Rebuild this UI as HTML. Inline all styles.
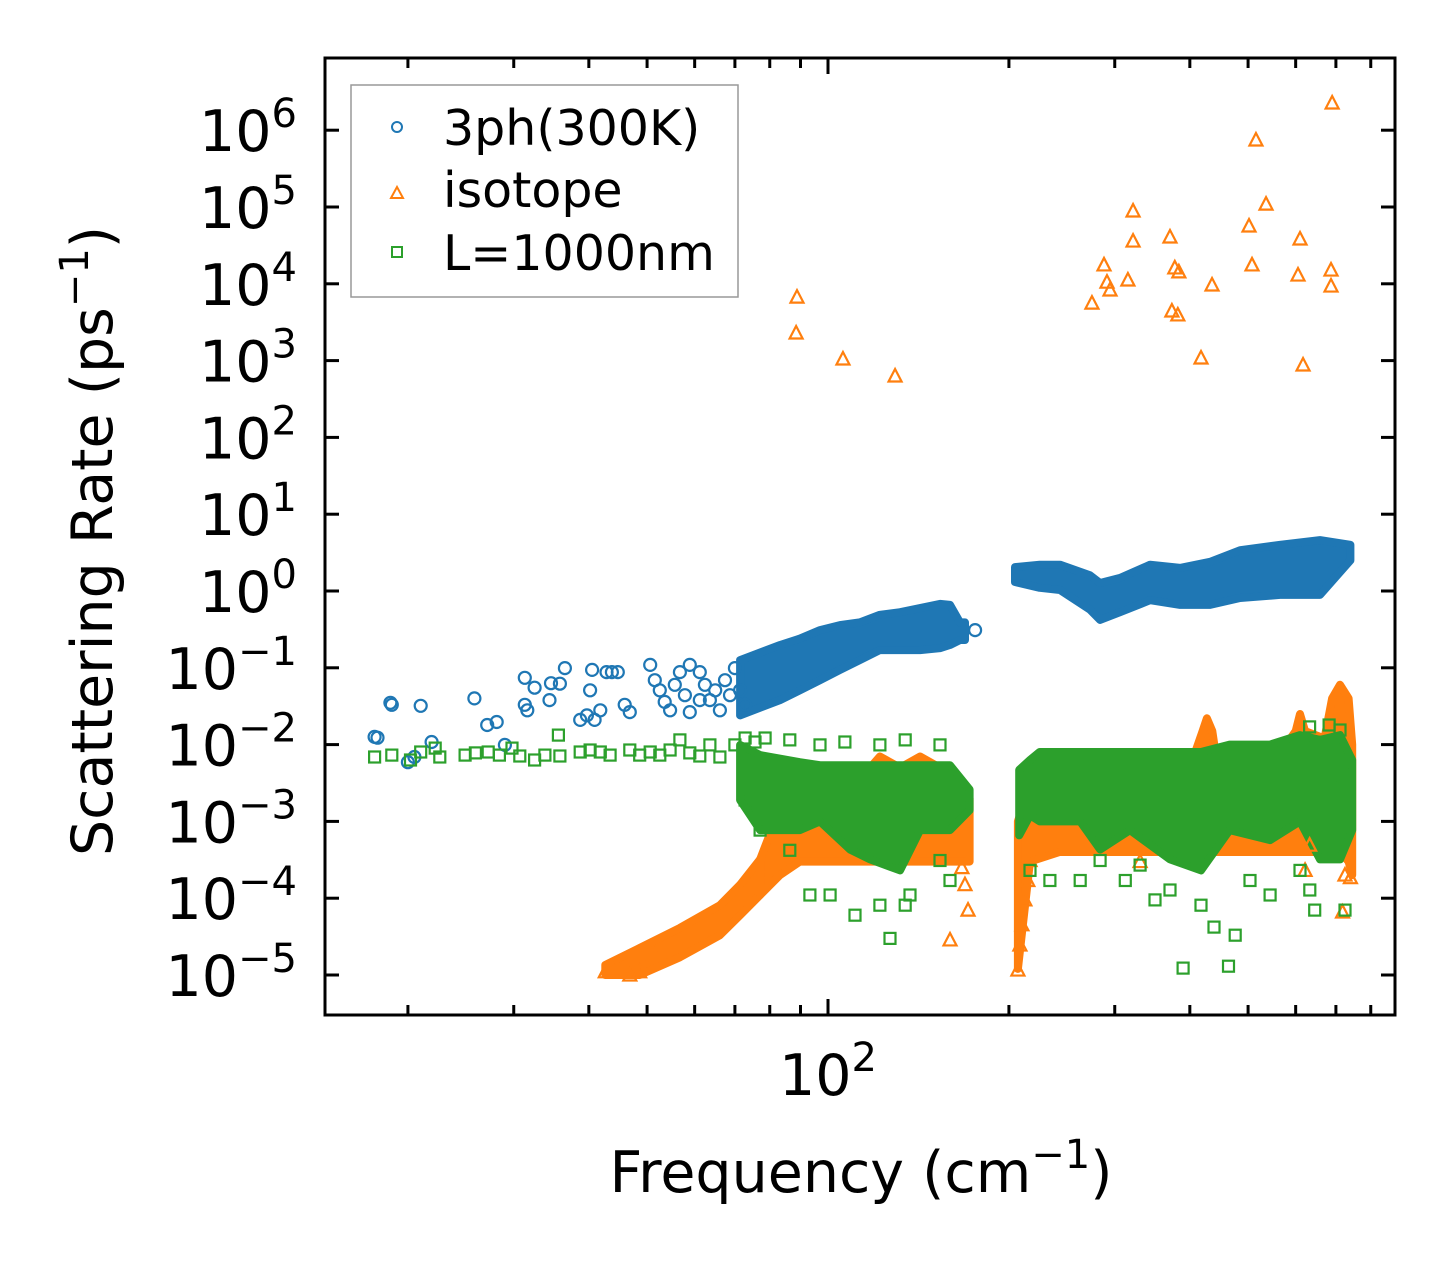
<!DOCTYPE html>
<html><head><meta charset="utf-8">
<style>
html,body{margin:0;padding:0;background:#fff;}
svg{display:block;font-family:"DejaVu Sans","Liberation Sans",sans-serif;}
</style></head>
<body>
<svg id="chart" width="1455" height="1265" viewBox="0 0 1455 1265" xmlns="http://www.w3.org/2000/svg">
<rect width="1455" height="1265" fill="#fff"/>
<g id="bands"></g>
<g id="marks"></g>
<rect x="325" y="58" width="1070" height="957" fill="none" stroke="#000" stroke-width="3"/>
<g id="ticks"></g>
<text x="861" y="1192" font-size="57" text-anchor="middle">Frequency (cm<tspan font-size="40" dy="-24">−1</tspan><tspan dy="24">)</tspan></text>
<text transform="translate(112,541) rotate(-90)" font-size="57" text-anchor="middle">Scattering Rate (ps<tspan font-size="40" dy="-24">−1</tspan><tspan dy="24">)</tspan></text>
<g>
<rect x="351" y="85" width="387" height="212" fill="#fff" fill-opacity="0.8" stroke="#999" stroke-width="1.5"/>
<circle cx="397" cy="127" r="5" fill="none" stroke="#1f77b4" stroke-width="2"/>
<text x="443" y="145" font-size="49">3ph(300K)</text>
<path d="M391,198 L403,198 L397,187 Z" fill="none" stroke="#ff7f0e" stroke-width="2"/>
<text x="443" y="207" font-size="49">isotope</text>
<rect x="392" y="247" width="10" height="10" fill="none" stroke="#2ca02c" stroke-width="2"/>
<text x="443" y="270" font-size="49">L=1000nm</text>
</g>
</svg>
<script>
// ---- data ----
const yTickExps = [6,5,4,3,2,1,0,-1,-2,-3,-4,-5];
const xMajorTicks = [100];
const xMinorTicks = [20,30,40,50,60,70,80,90,200,300,400,500,600,700,800];

const blueBand1F = [71.4,83.2,89.8,97,104.7,113,122,131.8,142.3,153.6,159.6,165.8,169];
const blueBand1Lo = [0.024,0.038,0.051,0.069,0.094,0.126,0.17,0.17,0.17,0.18,0.198,0.23,0.23];
const blueBand1Hi = [0.126,0.198,0.24,0.31,0.36,0.39,0.49,0.53,0.6,0.68,0.66,0.39,0.39];
const blueBand2F = [204.7,225,243.2,272.9,283.6,306.2,343.5,385.3,432.3,485,565.1,658.6,740];
const blueBand2Lo = [1.31,1.1,1.03,0.57,0.42,0.53,0.76,0.66,0.66,0.81,0.89,0.89,2.5];
const blueBand2Hi = [2.05,2.2,2.2,1.6,1.27,1.48,2.2,2.0,2.4,3.4,4.0,4.6,4.0];

const orangeBand1F = [42.6,48.6,56.7,66.1,71.4,77.1];
const orangeBand1Lo = [1e-5,1e-5,1.7e-5,3.3e-5,6e-5,1.1e-4];
const orangeBand1Hi = [1.35e-5,2.25e-5,4.1e-5,8.1e-5,1.5e-4,3.2e-4];
const orangeBand2F = [77.1,83.2,89.8,117.5,122,131.8,142.3,153.6,165.8,172];
const orangeBand2Lo = [1.1e-4,2e-4,3e-4,3e-4,3e-4,3e-4,3e-4,3e-4,3e-4,3e-4];
const orangeBand2Hi = [3.2e-4,1.5e-3,4e-3,5e-3,7e-3,5e-3,7e-3,5e-3,3e-3,2e-3];
const orangeBand3F = [207,216.8,243,400,420,427,436,445,560,600,610,622,670,690,711,735,745];
const orangeBand3Lo = [1.2e-5,3e-4,4e-4,4e-4,4e-4,4e-4,4e-4,4e-4,4e-4,4e-4,4e-4,4e-4,4e-4,4e-4,4e-4,3e-4,2e-4];
const orangeBand3Hi = [1e-3,3e-3,5e-3,5e-3,1.5e-2,2.2e-2,1.5e-2,5e-3,7e-3,1.5e-2,2.5e-2,1.5e-2,1.2e-2,4e-2,6e-2,4e-2,1e-2];

const greenBand1F = [71.4,77.1,89.8,97,108.8,117.5,131.8,142.3,159.6,172];
const greenBand1Lo = [1.9e-3,7.7e-4,7.7e-4,1.0e-3,4.3e-4,3.2e-4,2.3e-4,7.7e-4,7.7e-4,1.4e-3];
const greenBand1Hi = [9.9e-3,7.3e-3,5.9e-3,5.4e-3,5.4e-3,5.4e-3,5.4e-3,5.4e-3,5.4e-3,2.6e-3];
const greenBand2F = [208,216.8,225,262.8,283.6,318,370.7,417.5,466,544,610.1,658.6,711,745];
const greenBand2Lo = [6.6e-4,1.2e-3,1e-3,1e-3,4.3e-4,7.7e-4,3.2e-4,2.3e-4,7.7e-4,5.7e-4,1e-3,3.2e-4,3.2e-4,7.7e-4];
const greenBand2Hi = [4.7e-3,6.3e-3,8e-3,8e-3,8e-3,8e-3,8e-3,8e-3,1e-2,1e-2,1.33e-2,1.15e-2,1.33e-2,6.3e-3];

const blueF = [17.6,17.8,18.7,18.8,20.0,20.5,21.0,21.9,25.8,27.1,28.1,29.0,31.3,31.3,31.6,32.5,34.4,34.6,35.8,36.5,38.7,39.7,40.2,40.5,40.9,41.8,42.8,43.7,44.7,45.9,46.8,50.6,51.5,52.5,53.5,54.6,55.6,56.7,57.8,58.9,61.2,62.4,63.6,64.9,66.1,67.4,68.7,70.0,71.4,72.8,61.2,58.9,175.7];
const blueR = [1.26e-2,1.23e-2,3.5e-2,3.3e-2,5.9e-3,6.9e-3,3.2e-2,1.08e-2,4.0e-2,1.8e-2,1.97e-2,9.9e-3,7.4e-2,3.3e-2,2.8e-2,5.5e-2,3.8e-2,6.3e-2,6.2e-2,9.9e-2,2.1e-2,2.4e-2,5.1e-2,9.4e-2,2.1e-2,2.8e-2,8.8e-2,8.8e-2,8.8e-2,3.3e-2,2.65e-2,0.109,6.9e-2,5.1e-2,3.6e-2,2.8e-2,6.0e-2,8.8e-2,4.4e-2,2.65e-2,8.8e-2,6.0e-2,3.8e-2,5.1e-2,2.8e-2,6.9e-2,4.4e-2,9.9e-2,5.1e-2,3.3e-2,3.8e-2,0.109,0.31];

const orangeF = [88.8,88.5,105.9,129.3,274.9,287.9,291.2,294.6,315.5,321.8,321.8,370.7,377.6,383.5,373.4,382,435.5,417.5,501.8,507.6,515.3,535.6,610.1,605.4,617.2,687,687,690,
 42.6,43.7,45.4,46.8,48.6,50.2,51.5,53.5,159.6,169,167,171,207,208.6,210.2,212.6,215,216.8,718,724.7,740,622,330.6,633];
const orangeR = [6700,2290,1050,630,5600,17600,10500,8300,11200,88700,36000,40700,16100,14300,4420,3930,9650,1080,56600,17600,745000,109000,38300,13000,877,15100,9350,2.26e6,
 1.1e-5,1.23e-5,1.48e-5,1.0e-5,1.1e-5,1.35e-5,1.82e-5,2.25e-5,2.86e-5,1.5e-4,2.5e-4,7.0e-5,1.16e-5,2.46e-5,4.5e-5,9.5e-5,1.7e-4,3.1e-4,6.6e-5,2.0e-4,1.85e-4,2.3e-4,3.0e-4,4.9e-4];

const greenF = [17.6,18.8,20.2,21.0,22.2,22.6,24.9,25.9,27.2,28.4,29.8,30.7,32.5,33.8,35.6,35.8,38.7,40.2,41.8,43.4,46.8,48.6,50.6,52.5,54.6,56.7,58.9,61.2,63.6,66.1,70.0,72.8,75.6,78.6,86.4,97.0,106.7,122,134.4,153.6,
 72.8,77.1,86.4,93.3,100.8,110.9,122,126.8,134.4,136.9,153.6,159.6,169.0,216.8,234,262.8,283.6,312.4,330.6,350,370.7,389.8,417.5,438.8,463.8,476,503.6,544,610.1,633.4,645.4,724.7,719,682,711,633];
const greenR = [6.9e-3,7.3e-3,6.3e-3,8.0e-3,9.0e-3,6.9e-3,7.3e-3,7.8e-3,8.0e-3,7.3e-3,9.0e-3,7.1e-3,6.3e-3,7.3e-3,1.33e-2,7.1e-3,8.0e-3,8.5e-3,8.0e-3,7.3e-3,8.5e-3,7.3e-3,8.0e-3,7.3e-3,8.5e-3,1.15e-2,7.8e-3,7.1e-3,9.9e-3,6.9e-3,9.9e-3,1.22e-2,1.08e-2,1.22e-2,1.15e-2,9.9e-3,1.08e-2,9.9e-3,1.15e-2,9.9e-3,
 1.9e-3,7.7e-4,4.2e-4,1.1e-4,1.1e-4,6.0e-5,8.1e-5,3.0e-5,8.1e-5,1.1e-4,3.1e-4,1.7e-4,2.2e-3,2.3e-4,1.7e-4,1.7e-4,3.1e-4,1.7e-4,2.7e-4,9.5e-5,1.28e-4,1.23e-5,8.1e-5,4.2e-5,1.3e-5,3.3e-5,1.7e-4,1.1e-4,2.3e-4,1.28e-4,7.0e-5,7.0e-5,4.0e-3,1.8e-2,1.55e-2,1.7e-2];

// ---- axes ----
const NS = 'http://www.w3.org/2000/svg';
function xPx(f){ return 828 + 601*Math.log10(f/100); }
function yPx(r){ return 591 - 76.8*Math.log10(r); }
const BLUE='#1f77b4', ORANGE='#ff7f0e', GREEN='#2ca02c';
const bandsG=document.getElementById('bands');
const marksG=document.getElementById('marks');
const ticksG=document.getElementById('ticks');

function band(F,Lo,Hi,color,name){
  let d='';
  for(let i=0;i<F.length;i++) d+=(i?'L':'M')+xPx(F[i]).toFixed(1)+','+yPx(Hi[i]).toFixed(1);
  for(let i=F.length-1;i>=0;i--) d+='L'+xPx(F[i]).toFixed(1)+','+yPx(Lo[i]).toFixed(1);
  d+='Z';
  const p=document.createElementNS(NS,'path');
  p.setAttribute('d',d);
  p.setAttribute('fill',color);
  p.setAttribute('stroke',color);
  p.setAttribute('stroke-width','8');
  p.setAttribute('stroke-linejoin','round');
  
  
  bandsG.appendChild(p);
}
function circles(F,R){
  for(let i=0;i<F.length;i++){
    const c=document.createElementNS(NS,'circle');
    c.setAttribute('cx',xPx(F[i]).toFixed(1));
    c.setAttribute('cy',yPx(R[i]).toFixed(1));
    c.setAttribute('r','6');
    c.setAttribute('fill','none');
    c.setAttribute('stroke',BLUE);
    c.setAttribute('stroke-width','2.2');
    
    
    marksG.appendChild(c);
  }
}
function triangles(F,R){
  for(let i=0;i<F.length;i++){
    const x=xPx(F[i]), y=yPx(R[i]);
    const p=document.createElementNS(NS,'path');
    p.setAttribute('d','M'+(x-6.5)+','+(y+5.5)+'L'+(x+6.5)+','+(y+5.5)+'L'+x+','+(y-7)+'Z');
    p.setAttribute('fill','none');
    p.setAttribute('stroke',ORANGE);
    p.setAttribute('stroke-width','2.2');
    
    
    marksG.appendChild(p);
  }
}
function squares(F,R){
  for(let i=0;i<F.length;i++){
    const x=xPx(F[i]), y=yPx(R[i]);
    const s=document.createElementNS(NS,'rect');
    s.setAttribute('x',(x-5.5).toFixed(1));
    s.setAttribute('y',(y-5.5).toFixed(1));
    s.setAttribute('width','11');
    s.setAttribute('height','11');
    s.setAttribute('fill','none');
    s.setAttribute('stroke',GREEN);
    s.setAttribute('stroke-width','2.2');
    
    
    marksG.appendChild(s);
  }
}
band(blueBand1F,blueBand1Lo,blueBand1Hi,BLUE,'band-3ph-low');
band(blueBand2F,blueBand2Lo,blueBand2Hi,BLUE,'band-3ph-high');
circles(blueF,blueR);
band(orangeBand1F,orangeBand1Lo,orangeBand1Hi,ORANGE,'band-isotope-diagonal');
band(orangeBand2F,orangeBand2Lo,orangeBand2Hi,ORANGE,'band-isotope-mid');
band(orangeBand3F,orangeBand3Lo,orangeBand3Hi,ORANGE,'band-isotope-high');
triangles(orangeF,orangeR);
band(greenBand1F,greenBand1Lo,greenBand1Hi,GREEN,'band-boundary-low');
band(greenBand2F,greenBand2Lo,greenBand2Hi,GREEN,'band-boundary-high');
squares(greenF,greenR);

function line(x1,y1,x2,y2,name){
  const l=document.createElementNS(NS,'line');
  l.setAttribute('x1',x1);l.setAttribute('y1',y1);l.setAttribute('x2',x2);l.setAttribute('y2',y2);
  l.setAttribute('stroke','#000');l.setAttribute('stroke-width','3');
  
  
  ticksG.appendChild(l);
}
function txt(x,y,base,exp,anchor,name){
  const t=document.createElementNS(NS,'text');
  t.setAttribute('x',x);t.setAttribute('y',y);
  t.setAttribute('font-size','57');t.setAttribute('text-anchor',anchor);
  
  
  const a=document.createElementNS(NS,'tspan'); a.textContent=base; t.appendChild(a);
  const b=document.createElementNS(NS,'tspan'); b.setAttribute('font-size','40'); b.setAttribute('dy','-24'); b.textContent=exp; t.appendChild(b);
  ticksG.appendChild(t);
}
yTickExps.forEach(e=>{
  const y=yPx(Math.pow(10,e));
  line(325,y,339,y,'y-tick');
  line(1381,y,1395,y,'y-tick-right');
  txt(297,y+21,'10',e<0?'−'+(-e):String(e),'end','y-tick-label');
});
xMajorTicks.forEach(v=>{
  const x=xPx(v);
  line(x,1015,x,999,'x-tick-major');
  line(x,58,x,74,'x-tick-major-top');
  txt(x,1095,'10','2','middle','x-tick-label');
});
xMinorTicks.forEach(v=>{
  const x=xPx(v);
  line(x,1015,x,1005,'x-tick-minor');
  line(x,58,x,68,'x-tick-minor-top');
});
</script>
</body></html>
